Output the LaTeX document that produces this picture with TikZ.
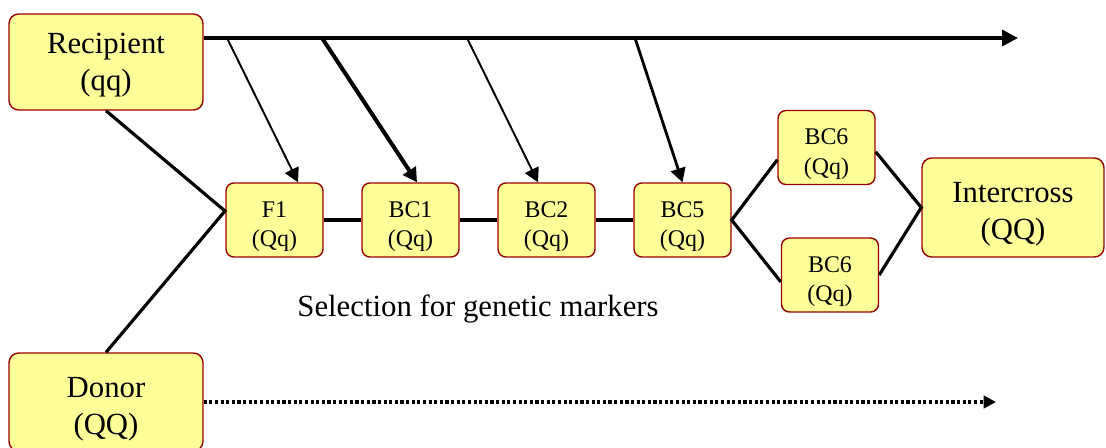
\documentclass[tikz,border=0pt]{standalone}
\usepackage{fontspec}
\setmainfont{Liberation Serif}
\usetikzlibrary{arrows.meta}
\definecolor{boxfill}{HTML}{FFFF99}
\definecolor{boxline}{HTML}{990000}
\tikzset{
  stage/.style={draw=boxline, fill=boxfill, line width=0.8pt, align=center, inner sep=0pt},
  parent/.style={stage, rounded corners=5.5pt, minimum width=3.88cm, minimum height=1.92cm,
    text depth=0pt, font=\fontsize{17.5}{21}\selectfont},
  cross/.style={stage, rounded corners=4.5pt, minimum width=1.94cm, minimum height=1.48cm,
    text depth=0pt, text height=30.7pt, font=\fontsize{13.6}{17}\selectfont},
  link/.style={line width=1.8pt},
  feed/.style={-{Triangle[length=8pt,width=8.5pt]}},
}

\begin{document}
\begin{tikzpicture}[x=0.02cm,y=-0.02cm]
  \useasboundingbox (0,0) rectangle (1106,447);

  % parents
  \node[parent] (rec) at (106,62) {Recipient\\(qq)};
  \node[parent, minimum height=1.96cm, text height=37pt] (don) at (106,402) {Donor\\(QQ)};

  % backcross chain
  \foreach \n/\x in {F1/274.5, BC1/410.5, BC2/546.5, BC5/682.5} {
    \node[cross] (\n) at (\x,220) {\n\\(Qq)};
  }
  \node[cross] (bc6a) at (826.5,147.5) {BC6\\(Qq)};
  \node[cross] (bc6b) at (830,275) {BC6\\(Qq)};
  \node[parent, minimum width=3.64cm, minimum height=1.98cm, text height=36pt] (int) at (1013,207.5) {Intercross\\(QQ)};

  \node[font=\fontsize{17.5}{21}\selectfont] (sel) at (478,309) {Selection for genetic markers};

  \coordinate (join) at (225,211);
  \coordinate (top) at (1018,38);
  \coordinate (bot) at (996,402);

  \draw[link] (rec.south) -- (join) -- (don.north);
  \draw[link] (F1) -- (BC1) -- (BC2) -- (BC5);
  \draw[link] (bc6a.194) -- (BC5.east) -- (bc6b.188);
  \draw[link] (bc6a.355) -- (int.west) -- (bc6b.east);

  % recipient line and feeds
  \draw[line width=2pt, -{Triangle[length=9pt,width=9pt]}] (rec.east |- top) -- (top);
  \draw[line width=2.6pt, dash pattern=on 1.8pt off 1.4pt, -{Triangle[length=7pt,width=7pt]}]
    (don.east) -- (bot);
  \foreach \s/\n/\d/\w in {227/F1/0.47/1.1, 322/BC1/0.13/2.3, 467/BC2/-0.17/1.1, 635/BC5/0/1.6} {
    \coordinate (s\n) at (\s,38);
    \draw[feed, line width=\w pt] (s\n) -- ([xshift=\d cm]\n.north);
  }
\end{tikzpicture}
\end{document}
